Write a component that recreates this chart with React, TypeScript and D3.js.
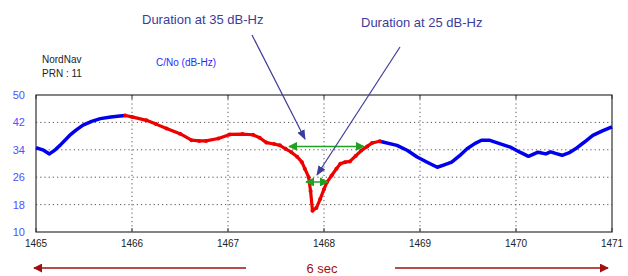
import React from "react";
import * as d3 from "d3";

const W = 628, H = 276;
const xTicks = [1465, 1466, 1467, 1468, 1469, 1470, 1471];
const yTicks = [10, 18, 26, 34, 42, 50];

const blueStartT = [1465.0, 1465.07, 1465.14, 1465.2, 1465.25, 1465.35, 1465.42, 1465.49, 1465.58, 1465.67, 1465.78, 1465.875, 1465.93];
const blueStartV = [34.6, 34.0, 32.8, 34.0, 35.3, 38.2, 39.8, 41.2, 42.3, 43.1, 43.6, 43.9, 44.0];

const redT = [1465.93, 1466.0, 1466.15, 1466.25, 1466.36, 1466.5, 1466.62, 1466.7, 1466.77, 1466.9, 1467.02, 1467.15, 1467.26, 1467.33, 1467.4, 1467.48, 1467.54, 1467.6, 1467.66, 1467.72, 1467.77, 1467.8, 1467.84, 1467.86, 1467.88, 1467.92, 1467.96, 1468.0, 1468.03, 1468.08, 1468.13, 1468.17, 1468.22, 1468.27, 1468.33, 1468.39, 1468.45, 1468.5, 1468.58];
const redV = [44.0, 43.6, 42.6, 41.5, 40.2, 38.7, 36.8, 36.6, 36.6, 37.3, 38.5, 38.6, 38.4, 37.5, 36.1, 35.7, 35.3, 34.3, 33.3, 32.0, 30.4, 28.5, 26.0, 22.0, 16.2, 17.0, 19.6, 22.5, 24.5, 26.5, 28.5, 29.9, 30.4, 30.6, 32.2, 33.8, 35.0, 36.0, 36.5];

const blueEndT = [1468.58, 1468.76, 1468.87, 1468.97, 1469.08, 1469.18, 1469.26, 1469.33, 1469.41, 1469.49, 1469.57, 1469.64, 1469.72, 1469.83, 1469.94, 1470.04, 1470.13, 1470.23, 1470.31, 1470.36, 1470.42, 1470.48, 1470.55, 1470.62, 1470.71, 1470.8, 1470.9, 1471.0];
const blueEndV = [36.5, 35.3, 33.8, 31.9, 30.3, 28.9, 29.7, 30.4, 32.2, 34.3, 35.8, 36.8, 36.8, 35.8, 34.8, 33.3, 32.1, 33.3, 32.8, 33.4, 32.9, 32.4, 33.1, 34.3, 36.2, 38.2, 39.5, 40.7];

const M = { left: 36, right: 612, top: 95, bottom: 232 };

export default function App() {
  const x = d3.scaleLinear().domain([1465, 1471]).range([M.left, M.right]);
  const y = d3.scaleLinear().domain([10, 50]).range([M.bottom, M.top]);
  const line = d3.line<[number, number]>().x(d => x(d[0])).y(d => y(d[1]));
  const seg = (t: number[], v: number[]) => t.map((tt, i) => [tt, v[i]] as [number, number]);
  const b1 = seg(blueStartT, blueStartV), r = seg(redT, redV), b2 = seg(blueEndT, blueEndV);
  const blue = "#0000ee", red = "#ee0000", green = "#22a022", navy = "#3c3c9c", dark = "#a01010";
  const font = "Liberation Sans, Arial, sans-serif";
  return (
    <svg width={W} height={H} style={{ position: "absolute", left: 0, top: 0, background: "#fff" }} fontFamily={font}>
      <defs>
        <marker id="gh" viewBox="0 0 10 10" refX="9" refY="5" markerWidth="9" markerHeight="9" orient="auto-start-reverse" markerUnits="userSpaceOnUse">
          <path d="M0,0 L10,5 L0,10 z" fill={green} />
        </marker>
        <marker id="nh" viewBox="0 0 10 10" refX="9" refY="5" markerWidth="10" markerHeight="10" orient="auto" markerUnits="userSpaceOnUse">
          <path d="M0,1 L10,5 L0,9 z" fill={navy} />
        </marker>
        <marker id="rh" viewBox="0 0 10 10" refX="9" refY="5" markerWidth="9" markerHeight="9" orient="auto-start-reverse" markerUnits="userSpaceOnUse">
          <path d="M0,0 L10,5 L0,10 z" fill={dark} />
        </marker>
      </defs>
      <text x={42} y={63} fontSize={10} fill="#222">NordNav</text>
      <text x={42} y={77} fontSize={10} fill="#222">PRN : 11</text>
      <text x={156} y={66} fontSize={10} fill="#2a2aff">C/No (dB-Hz)</text>
      {xTicks.slice(1, -1).map(t => (
        <line key={"gx" + t} x1={x(t)} x2={x(t)} y1={M.top} y2={M.bottom} stroke="#555" strokeDasharray="1.2,3" />
      ))}
      {yTicks.slice(1, -1).map(t => (
        <line key={"gy" + t} x1={M.left} x2={M.right} y1={y(t)} y2={y(t)} stroke="#555" strokeDasharray="1.2,3" />
      ))}
      {xTicks.map(t => (
        <g key={"tx" + t}>
          <line x1={x(t)} x2={x(t)} y1={M.bottom} y2={M.bottom - 4} stroke="#333" />
          <line x1={x(t)} x2={x(t)} y1={M.top} y2={M.top + 4} stroke="#333" />
          <text x={x(t)} y={247} fontSize={10} textAnchor="middle" fill="#222">{t}</text>
        </g>
      ))}
      {yTicks.map(t => (
        <text key={"ty" + t} x={25} y={y(t) + 4} fontSize={11} textAnchor="end" fill="#5050ff">{t}</text>
      ))}
      <rect x={M.left} y={M.top} width={M.right - M.left} height={M.bottom - M.top} fill="none" stroke="#333" strokeWidth={1.2} />
      <path d={line(b1) ?? ""} fill="none" stroke={blue} strokeWidth={3.5} strokeLinejoin="round" />
      <path d={line(b2) ?? ""} fill="none" stroke={blue} strokeWidth={3.5} strokeLinejoin="round" />
      <path d={line(r) ?? ""} fill="none" stroke={red} strokeWidth={3.2} strokeLinejoin="round" />
      {r.map((d, i) => <circle key={"rc" + i} cx={x(d[0])} cy={y(d[1])} r={2} fill={red} />)}
      <line x1={289} x2={364} y1={y(35)} y2={y(35)} stroke={green} strokeWidth={1.5} markerStart="url(#gh)" markerEnd="url(#gh)" />
      <line x1={306} x2={328} y1={y(24.6)} y2={y(24.6)} stroke={green} strokeWidth={1.5} markerStart="url(#gh)" markerEnd="url(#gh)" />
      <text x={142} y={24} fontSize={13} fill={navy}>Duration at 35 dB-Hz</text>
      <text x={361} y={27} fontSize={13} fill={navy}>Duration at 25 dB-Hz</text>
      <line x1={252} y1={35} x2={305} y2={139} stroke={navy} strokeWidth={1.2} markerEnd="url(#nh)" />
      <line x1={400} y1={47} x2={317} y2={175} stroke={navy} strokeWidth={1.2} markerEnd="url(#nh)" />
      <line x1={246} x2={34} y1={268} y2={268} stroke={dark} strokeWidth={1.5} markerEnd="url(#rh)" />
      <line x1={395} x2={608} y1={268} y2={268} stroke={dark} strokeWidth={1.5} markerEnd="url(#rh)" />
      <text x={322} y={273} fontSize={13} textAnchor="middle" fill={dark}>6 sec</text>
    </svg>
  );
}
